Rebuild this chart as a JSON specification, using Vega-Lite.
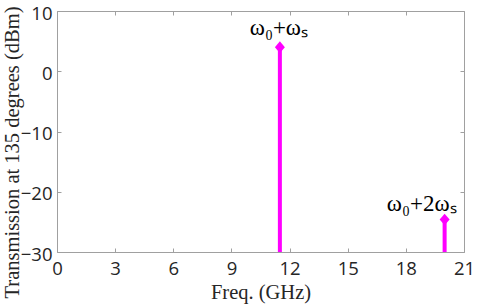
{
  "$schema": "https://vega.github.io/schema/vega-lite/v6.json",
  "width": 407,
  "height": 241,
  "autosize": "none",
  "padding": {"left": 57, "top": 11, "right": 14, "bottom": 54},
  "background": "white",
  "config": {
    "view": {"stroke": null},
    "axis": {
      "domainColor": "#a0a0a0",
      "tickColor": "#a0a0a0",
      "tickSize": -4,
      "grid": false,
      "labelFlush": false,
      "labelOverlap": false,
      "labelFont": "Open Sans",
      "labelFontSize": 18.5,
      "labelColor": "#262626",
      "titleFont": "Liberation Serif",
      "titleFontSize": 20.5,
      "titleFontWeight": "normal",
      "titleColor": "#262626"
    }
  },
  "data": {
    "values": [
      {"freq": 11.5, "power": 4.0, "label": "ω₀+ωₛ"},
      {"freq": 20.0, "power": -24.6, "label": "ω₀+2ωₛ"}
    ]
  },
  "resolve": {"axis": {"x": "independent", "y": "independent"}},
  "layer": [
    {
      "mark": {"type": "rule", "color": "#ff00ff", "strokeWidth": 4},
      "encoding": {
        "x": {
          "field": "freq", "type": "quantitative",
          "scale": {"domain": [0, 21], "nice": false, "zero": false},
          "axis": {"values": [0, 3, 6, 9, 12, 15, 18, 21], "title": "Freq. (GHz)", "labelPadding": 11, "titleY": 46, "titleBaseline": "alphabetic"}
        },
        "y": {
          "field": "power", "type": "quantitative",
          "scale": {"domain": [-30, 10], "nice": false, "zero": false},
          "axis": {"values": [-30, -20, -10, 0, 10], "title": "Transmission at 135 degrees (dBm)", "labelPadding": 9, "labelOffset": 2, "titleX": -39, "titleY": 141, "titleBaseline": "alphabetic"}
        },
        "y2": {"datum": -30}
      }
    },
    {
      "mark": {"type": "point", "filled": true, "opacity": 1, "color": "#ff00ff", "shape": "M0,-1.05L0.9,0L0,1.05L-0.9,0Z", "size": 123},
      "encoding": {
        "x": {"field": "freq", "type": "quantitative", "axis": null},
        "y": {"field": "power", "type": "quantitative", "axis": null}
      }
    },
    {
      "transform": [{"filter": "datum.freq < 15"}],
      "mark": {"type": "text", "font": "Liberation Serif", "fontSize": 23, "color": "#000000", "align": "center", "baseline": "alphabetic", "dx": -1, "dy": -12},
      "encoding": {
        "x": {"field": "freq", "type": "quantitative", "axis": null},
        "y": {"field": "power", "type": "quantitative", "axis": null},
        "text": {"field": "label"}
      }
    },
    {
      "transform": [{"filter": "datum.freq > 15"}],
      "mark": {"type": "text", "font": "Liberation Serif", "fontSize": 23, "color": "#000000", "align": "right", "baseline": "alphabetic", "dx": 12, "dy": -8},
      "encoding": {
        "x": {"field": "freq", "type": "quantitative", "axis": null},
        "y": {"field": "power", "type": "quantitative", "axis": null},
        "text": {"field": "label"}
      }
    },
    {
      "mark": {"type": "point", "opacity": 0},
      "encoding": {
        "x": {"field": "freq", "type": "quantitative", "axis": {"orient": "top", "values": [0, 3, 6, 9, 12, 15, 18, 21], "labels": false, "title": null}},
        "y": {"field": "power", "type": "quantitative", "axis": {"orient": "right", "values": [-30, -20, -10, 0, 10], "labels": false, "title": null}}
      }
    }
  ]
}
